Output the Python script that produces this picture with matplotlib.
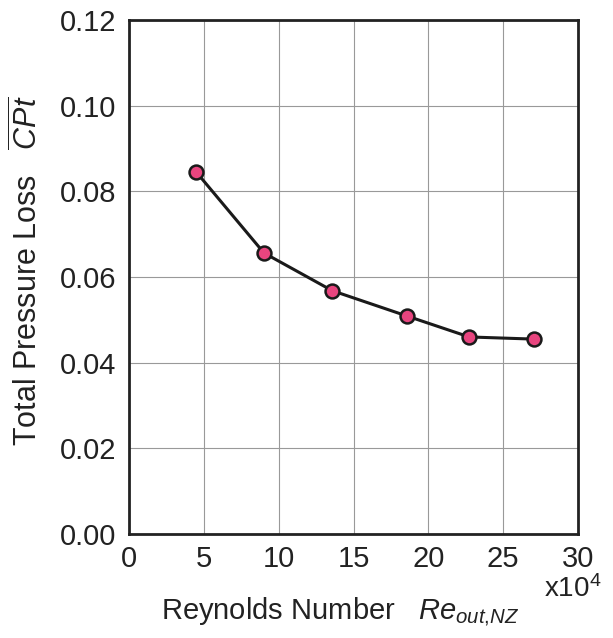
import numpy as np
import matplotlib.pyplot as plt

plt.rcParams['font.family'] = ['Liberation Sans', 'DejaVu Sans']
plt.rcParams['mathtext.fontset'] = 'custom'
plt.rcParams['mathtext.rm'] = 'Liberation Sans'
plt.rcParams['mathtext.it'] = 'Liberation Sans:italic'

# Reynolds number (x10^4) and total pressure loss
re_out = [4.47, 9.02, 13.58, 18.56, 22.73, 27.05]
cpt = [0.0846, 0.0656, 0.0568, 0.0509, 0.0460, 0.0455]

xticks = [0, 5, 10, 15, 20, 25, 30]
yticks = [0.00, 0.02, 0.04, 0.06, 0.08, 0.10, 0.12]

fig = plt.figure(figsize=(6.13, 6.38), dpi=100)
ax = fig.add_axes([0.2104, 0.163, 0.7326, 0.8057])

ax.plot(re_out, cpt, '-', color='#1a1a1a', linewidth=2.2,
        marker='o', markersize=10, markerfacecolor='#e8457f',
        markeredgecolor='#1a1a1a', markeredgewidth=1.8, zorder=3)

ax.set_xlim(0, 30)
ax.set_ylim(0, 0.12)
ax.set_xticks(xticks)
ax.set_yticks(yticks)
ax.set_xticklabels([str(v) for v in xticks])
ax.set_yticklabels([f'{v:.2f}' for v in yticks])
ax.tick_params(length=0, labelsize=21, colors='#222222')
ax.tick_params(axis='y', pad=9)
ax.tick_params(axis='x', pad=8)
ax.grid(True, color='#999999', linewidth=0.8)
ax.set_axisbelow(True)
for s in ax.spines.values():
    s.set_linewidth(2)
    s.set_color('#222222')

fig.text(0.555, 0.031, r'Reynolds Number   $\mathit{Re}_{\mathit{out{,}NZ}}$',
         fontsize=21, color='#222222', ha='center', va='baseline')
fig.text(0.045, 1 - 271 / 638, r'Total Pressure Loss   $\overline{\mathit{CPt}}$',
         fontsize=22, color='#222222', rotation=90, ha='center', va='center')
fig.text(0.887, 0.064, r'x10$^{4}$', fontsize=20, color='#222222',
         ha='left', va='baseline')

fig.savefig('out.png', dpi=100)
